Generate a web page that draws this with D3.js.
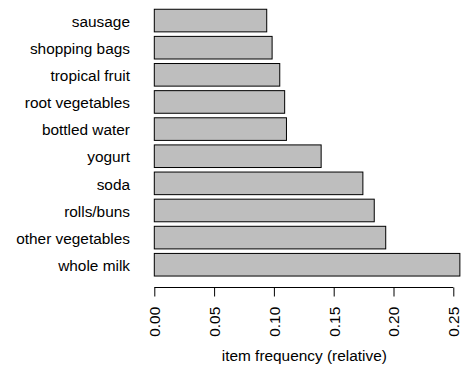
<!DOCTYPE html>
<html><head><meta charset="utf-8">
<script src="https://cdn.jsdelivr.net/npm/d3@7"></script>
<style>body{margin:0;background:#fff}svg{display:block}text{font-family:"Liberation Sans",Arial,sans-serif;fill:#000}</style>
</head><body>
<svg id="c" width="472" height="371"></svg>
<script>
const items = ["sausage","shopping bags","tropical fruit","root vegetables","bottled water","yogurt","soda","rolls/buns","other vegetables","whole milk"];
const freq = [0.0940,0.0985,0.1049,0.1090,0.1105,0.1395,0.1744,0.1839,0.1935,0.2555];
const ticks = [0,0.05,0.10,0.15,0.20,0.25];
const xTitle = "item frequency (relative)";

const svg = d3.select("#c");
const x = d3.scaleLinear().domain([0,0.25]).range([154.3,453.3]);
const y = d3.scaleBand().domain(items).range([7.0,278.3]).paddingInner(0.1667).paddingOuter(0.0833);

svg.selectAll("rect.bar").data(items).enter().append("rect")
  .attr("x", x(0)).attr("y", d=>y(d))
  .attr("width", (d,i)=>x(freq[i])-x(0)).attr("height", y.bandwidth())
  .attr("fill","#bebebe").attr("stroke","#000").attr("stroke-width",1);

svg.selectAll("text.cat").data(items).enter().append("text")
  .attr("x",130).attr("y",d=>y(d)+y.bandwidth()/2+0.8).attr("dy","0.35em")
  .attr("text-anchor","end").attr("font-size","15.4px").text(d=>d);

const ax = d3.axisBottom(x).tickValues(ticks).tickSize(9).tickFormat(d3.format(".2f"));
const g = svg.append("g").attr("transform","translate(0,287.5)").call(ax);
g.select(".domain").attr("d",`M${x(0)},0H${x(0.25)}`).attr("stroke","#000");
g.selectAll(".tick line").attr("stroke","#000");
g.selectAll(".tick text").attr("font-size","15.4px").attr("fill","#000")
  .attr("font-family","Liberation Sans, Arial, sans-serif")
  .attr("transform","rotate(-90)").attr("text-anchor","end")
  .attr("x",-19.3).attr("y",0).attr("dy","0.35em");

svg.append("text").attr("x",x(0.125)+0.5).attr("y",361).attr("text-anchor","middle")
  .attr("font-size","15.4px").text(xTitle);
</script>
</body></html>
